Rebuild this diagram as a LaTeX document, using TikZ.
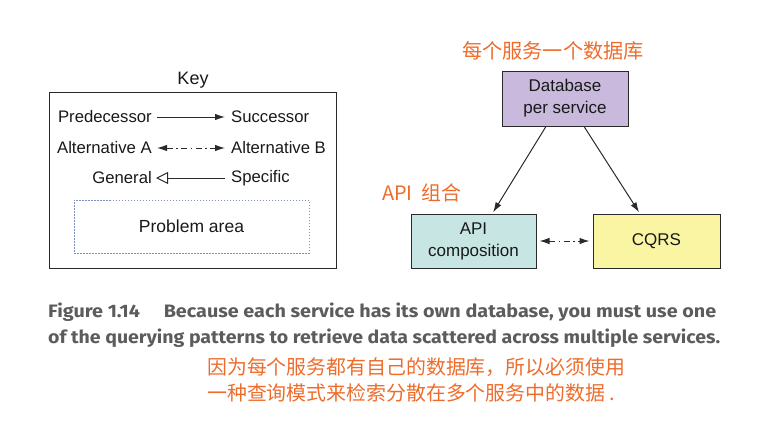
\documentclass[tikz,border=0pt]{standalone}
\usepackage{fontspec}
\setmainfont{Liberation Sans}
\newfontfamily\cjk{Noto Sans CJK SC}
\newfontfamily\capfont{Fira Sans}
\usetikzlibrary{arrows.meta,calc}
\definecolor{orng}{HTML}{EE6C2B}
\definecolor{capgray}{HTML}{5C5C5C}
\definecolor{dbfill}{HTML}{C9B9DD}
\definecolor{apifill}{HTML}{C6E5E3}
\definecolor{cqfill}{HTML}{F9F5A3}
\definecolor{probline}{HTML}{8090BC}
\definecolor{edge}{HTML}{2A2A2A}
\tikzset{
  lbl/.style={font=\fontsize{16.7}{19}\selectfont, inner sep=3pt, text=black!90},
  pbox/.style={draw=edge, line width=1pt, font=\fontsize{17}{22}\selectfont, align=center, inner sep=0pt, text=black!90},
  solidarr/.style={draw=edge, line width=1pt, -{Latex[length=10pt,width=6.5pt]}},
  altarr/.style={draw=edge, line width=1pt, {Latex[length=10pt,width=6.5pt]}-{Latex[length=10pt,width=6.5pt]}, dash pattern=on 6pt off 3.5pt on 1.5pt off 3.5pt},
  genarr/.style={draw=edge, line width=1pt, -{Triangle[open,length=12pt,width=12pt]}},
  cn/.style={font=\cjk\fontsize{19.9}{22}\selectfont, text=orng, inner sep=0pt},
  capline/.style={font=\capfont\bfseries\fontsize{18}{20}\selectfont, text=capgray, inner sep=0pt, anchor=west}
}
\begin{document}
\begin{tikzpicture}[x=1pt,y=-1pt]
\useasboundingbox (0,0) rectangle (776,431);
% Key
\node[lbl, font=\fontsize{18}{20}\selectfont] (keytitle) at (193,80) {Key};
\node[draw=edge, line width=1pt, minimum width=287pt, minimum height=176pt, inner sep=0pt] (keybox) at (192.5,180) {};
\node[lbl, anchor=east] (pred) at (155,117) {Predecessor};
\node[lbl, anchor=west] (succ) at (228,117) {Successor};
\node[lbl, anchor=east] (alta) at (155,148) {Alternative A};
\node[lbl, anchor=west] (altb) at (228,148) {Alternative B};
\node[lbl, anchor=east] (gen) at (155,178) {General};
\node[lbl, anchor=west] (spec) at (228,178) {Specific};
\draw[solidarr, shorten >=3pt, shorten <=2pt] (pred) -- (succ);
\draw[altarr, shorten >=3pt, shorten <=2pt] (alta) -- (altb);
\draw[genarr, shorten >=1pt, shorten <=3pt] (spec) -- (gen);
\node[draw=probline, line width=1pt, dash pattern=on 1.5pt off 1.5pt, minimum width=235pt, minimum height=53pt, inner sep=0pt, font=\fontsize{17.5}{20}\selectfont, text=black!90] (prob) at (191.5,226.5) {Problem area};
% Patterns
\node[pbox, fill=dbfill, minimum width=126pt, minimum height=55pt] (db) at (565,98.5) {Database\\per service};
\node[pbox, fill=apifill, minimum width=125pt, minimum height=54pt] (api) at (473.5,241) {API\\composition};
\node[pbox, fill=cqfill, minimum width=127pt, minimum height=54pt] (cqrs) at (656.5,241) {CQRS};
\coordinate (d1) at ($(db.south west)!0.35!(db.south east)$);
\coordinate (d2) at ($(db.south west)!0.65!(db.south east)$);
\coordinate (a1) at ($(api.north west)!0.65!(api.north east)$);
\coordinate (c1) at ($(cqrs.north west)!0.37!(cqrs.north east)$);
\draw[solidarr, shorten >=1.5pt] (d1) -- (a1);
\draw[solidarr, shorten >=1.5pt] (d2) -- (c1);
\draw[altarr, shorten >=3pt, shorten <=3pt] (api) -- (cqrs);
\node[cn, font=\cjk\fontsize{20.2}{22}\selectfont] (dbcn) at (553,51) {每个服务一个数据库};
\node[cn, anchor=west] (apicn) at (382,193) {API\ \ 组合};
% Caption
\node[capline] (cap1) at (48,312) {\resizebox{668pt}{\height}{Figure 1.14\hspace{1.2em}Because each service has its own database, you must use one}};
\node[capline] (cap2) at (48,338) {\resizebox{672pt}{\height}{of the querying patterns to retrieve data scattered across multiple services.}};
\node[cn, anchor=west] (cn1) at (207,367) {因为每个服务都有自己的数据库，所以必须使用};
\node[cn, anchor=west] (cn2) at (207,393) {一种查询模式来检索分散在多个服务中的数据 .};
\end{tikzpicture}
\end{document}
